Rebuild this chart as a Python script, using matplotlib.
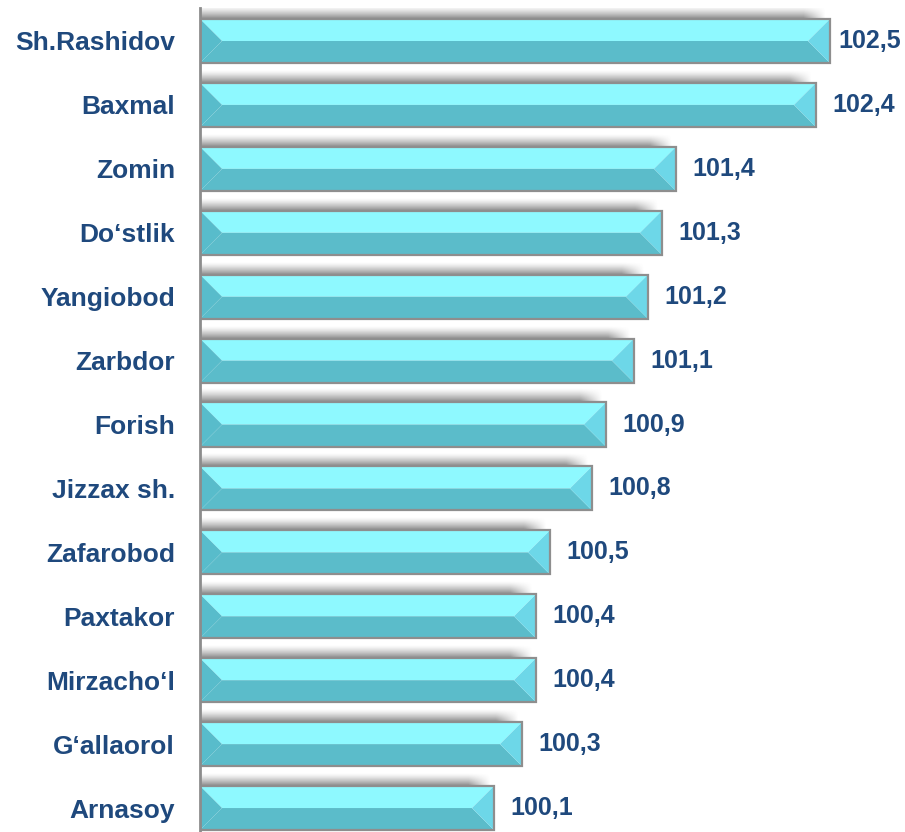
import matplotlib
matplotlib.use('Agg')
import matplotlib.pyplot as plt
import numpy as np
from matplotlib.patches import Polygon, Rectangle

categories = ["Sh.Rashidov", "Baxmal", "Zomin", "Do\u2018stlik", "Yangiobod", "Zarbdor",
              "Forish", "Jizzax sh.", "Zafarobod", "Paxtakor", "Mirzacho\u2018l",
              "G\u2018allaorol", "Arnasoy"]
values = [102.5, 102.4, 101.4, 101.3, 101.2, 101.1, 100.9, 100.8, 100.5, 100.4, 100.4, 100.3, 100.1]
value_labels = ["102,5", "102,4", "101,4", "101,3", "101,2", "101,1", "100,9", "100,8",
                "100,5", "100,4", "100,4", "100,3", "100,1"]

W, H = 905, 832
fig = plt.figure(figsize=(W / 100, H / 100), dpi=100)
ax_left, ax_right, ax_top = 200, 900, 8
ax = fig.add_axes([ax_left / W, 0, (ax_right - ax_left) / W, (H - ax_top) / H])

xmin, xmax = 98.0, 103.0
ymax_d, ymin_d = 12.375, -0.516
ax.set_xlim(xmin, xmax)
ax.set_ylim(ymax_d, ymin_d)

sx = (ax_right - ax_left) / (xmax - xmin)       # px per x unit
sy = (H - ax_top) / (ymax_d - ymin_d)            # px per y unit

bar_h = 0.69
half = bar_h / 2
bev = half * sy / sx

c_top = '#8ef9ff'
c_bot = '#5bbcca'
c_left = '#58bccb'
c_right = '#6dd7e8'
c_edge = '#8e8e8e'
txt_col = '#1f497d'

shadow_h = 13 / sy
for i, v in enumerate(values):
    x0, x1 = xmin, v
    yt, yb, ym = i - half, i + half, i
    # shadow above bar
    nrow, ncol = 40, 200
    xe = x1 - 3 / sx
    grad = np.zeros((nrow, ncol, 4))
    grad[..., :3] = 0.42
    vert = np.linspace(0, 1, nrow) ** 1.3
    xs = np.linspace(x0, xe, ncol)
    horiz = np.clip((xe - xs) / (22 / sx), 0, 1)
    grad[..., 3] = 0.8 * vert[:, None] * horiz[None, :]
    ax.imshow(grad, extent=(x0, xe, yt, yt - shadow_h), origin='upper',
              aspect='auto', interpolation='bilinear', zorder=1)
    # bevel bar
    ax.add_patch(Polygon([(x0, yt), (x1, yt), (x1 - bev, ym), (x0 + bev, ym)],
                         closed=True, facecolor=c_top, edgecolor='none', zorder=3))
    ax.add_patch(Polygon([(x0, yb), (x1, yb), (x1 - bev, ym), (x0 + bev, ym)],
                         closed=True, facecolor=c_bot, edgecolor='none', zorder=3))
    ax.add_patch(Polygon([(x0, yt), (x0 + bev, ym), (x0, yb)],
                         closed=True, facecolor=c_left, edgecolor='none', zorder=4))
    ax.add_patch(Polygon([(x1, yt), (x1 - bev, ym), (x1, yb)],
                         closed=True, facecolor=c_right, edgecolor='none', zorder=4))
    ax.add_patch(Rectangle((x0, yt), x1 - x0, bar_h, facecolor='none',
                           edgecolor=c_edge, lw=1.6, zorder=5))
    # value label
    end_px = ax_left + (v - xmin) * sx
    off_px = min(16, W - 4 - 63 - end_px)
    ax.text(v + off_px / sx, i, value_labels[i], ha='left', va='center',
            fontsize=18, fontweight='bold', color=txt_col, family='Liberation Sans',
            zorder=6)

ax.set_yticks(range(len(categories)))
ax.set_yticklabels(categories, fontsize=19, fontweight='bold', color=txt_col,
                   family='Liberation Sans')
ax.tick_params(axis='y', length=0, pad=18)
ax.set_xticks([])
for s in ['top', 'right', 'bottom']:
    ax.spines[s].set_visible(False)
ax.spines['left'].set_color('#8c8c8c')
ax.spines['left'].set_linewidth(2)
ax.spines['left'].set_zorder(6)

fig.savefig('out.png', dpi=100)
